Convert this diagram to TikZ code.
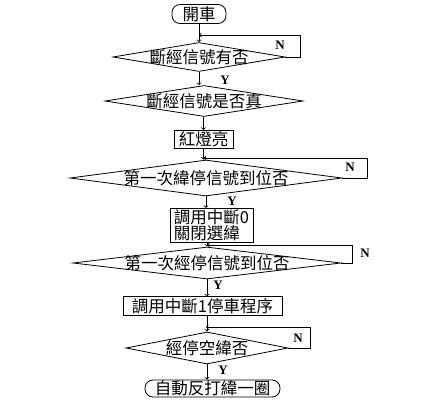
\documentclass[tikz,border=0pt]{standalone}
\usepackage{fontspec}
\newfontfamily\cjkfont{Noto Sans CJK TC}
\newfontfamily\ynfont{Liberation Serif}
\usetikzlibrary{shapes.geometric}
\begin{document}
\begin{tikzpicture}[x=1pt,y=-1pt,line width=.8pt,>=to,
    every node/.style={font=\cjkfont\fontsize{16.5}{16}\selectfont},
    term/.style={draw,rounded corners=8pt,inner sep=0pt},
    proc/.style={draw,inner sep=1.5pt},
    cond/.style={draw,diamond,inner sep=0pt},
    yn/.style={font=\ynfont\bfseries\fontsize{13}{13}\selectfont}]
        \useasboundingbox (0,0) rectangle (436,412);
        \node[term,minimum width=54pt,minimum height=19pt] (start) at (199,14) {開車};
        \node[cond,minimum width=172pt,minimum height=29pt,label=center:斷經信號有否] (chk1) at (199,57) {};
        \node[cond,minimum width=198pt,minimum height=31pt,label=center:斷經信號是否真] (chk2) at (204,101) {};
        \node[proc,minimum width=59pt,minimum height=17pt] (red) at (203.5,139.5) {紅燈亮};
        \node[cond,minimum width=272pt,minimum height=36pt,label=center:第一次緯停信號到位否] (chk3) at (206,178) {};
        \node[proc,minimum width=83pt,minimum height=33pt,align=left] (int0) at (211.5,225.5) {調用中斷0\\關閉選緯};
        \node[cond,minimum width=268pt,minimum height=32pt,label=center:第一次經停信號到位否] (chk4) at (207,263) {};
        \node[proc,minimum width=159pt,minimum height=18pt] (int1) at (202.5,306) {調用中斷1停車程序};
        \node[cond,minimum width=162pt,minimum height=32pt,label=center:經停空緯否] (chk5) at (207,348) {};
        \node[term,minimum width=135pt,minimum height=17pt] (stop) at (212.5,388.5) {自動反打緯一圈};

        \coordinate (j1) at (199,35);
        \coordinate (j3) at (203.5,158);
        \coordinate (j4) at (207,245);
        \coordinate (j5) at (206,327);

        \node[yn] (n1) at (280,45) {N};
        \node[yn] (y1) at (225,80) {Y};
        \node[yn] (n3) at (350,167) {N};
        \node[yn] (y3) at (232,201) {Y};
        \node[yn] (n4) at (365,253) {N};
        \node[yn] (y4) at (218,285) {Y};
        \node[yn] (n5) at (298,338) {N};
        \node[yn] (y5) at (223,370) {Y};

        \draw[->] (start) -- (chk1);
        \draw[->] (chk1.east) -- ++(15,0) |- (j1);
        \draw[->] (chk1.south) -- (chk1.south |- chk2.north);
        \draw[->] (chk2.south -| red.north) -- (red.north);
        \draw[->] (red.south) -- (red.south |- chk3.north);
        \draw[->] (chk3.east) -- ++(25,0) |- (j3);
        \draw[->] (chk3.south) -- (chk3.south |- int0.north);
        \draw[->] (int0.south -| chk4.north) -- (chk4.north);
        \draw[->] (chk4.east) -- ++(11,0) |- (j4);
        \draw[->] (chk4.south) -- (chk4.south |- int1.north);
        \draw[->] (int1.south -| chk5.north) -- (chk5.north);
        \draw[->] (chk5.east) -- ++(22,0) |- (j5);
        \draw[->] (chk5.south) -- (chk5.south |- stop.north);
\end{tikzpicture}
\end{document}
